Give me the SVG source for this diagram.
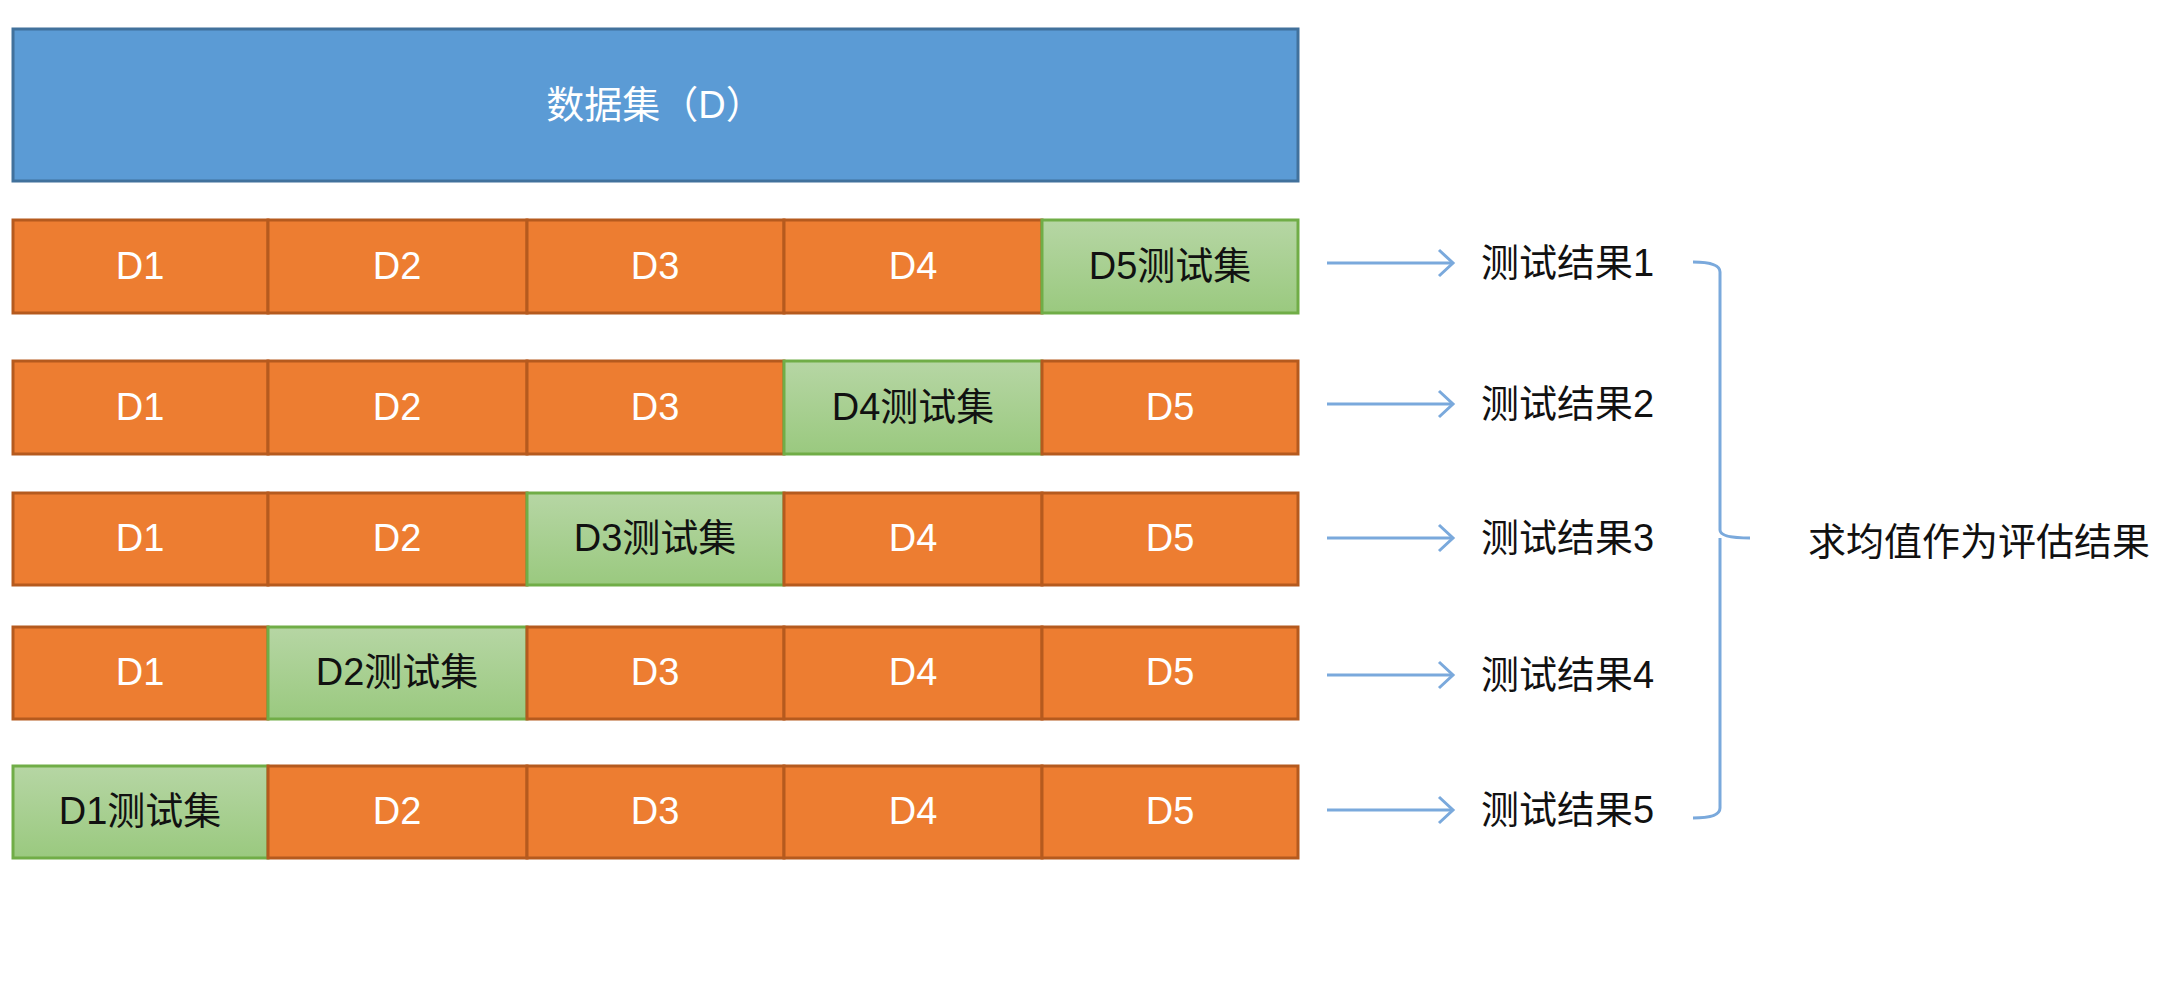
<svg xmlns="http://www.w3.org/2000/svg" width="2179" height="993" viewBox="0 0 2179 993">
<style>
.o{fill:#ed7d31;stroke:#b55a1e;stroke-width:3}
.g{fill:url(#gg);stroke:#70ad47;stroke-width:3}
.t{font-family:"Liberation Sans","Noto Sans CJK SC",sans-serif;font-size:38px;text-anchor:middle;dominant-baseline:central}
.w{fill:#fff}.k{fill:#111}
.r{font-family:"Liberation Sans","Noto Sans CJK SC",sans-serif;font-size:38px;fill:#111;dominant-baseline:central}
.a{stroke:#7aa9dc;stroke-width:3;fill:none}
</style>
<defs>
<linearGradient id="gg" x1="0" y1="0" x2="0" y2="1"><stop offset="0" stop-color="#b6d6a4"/><stop offset="1" stop-color="#9ac97f"/></linearGradient>
<marker id="ar" markerWidth="30" markerHeight="30" refX="26" refY="15" markerUnits="userSpaceOnUse" orient="auto"><path d="M12 2 L26 15 L12 28" fill="none" stroke="#7aa9dc" stroke-width="3"/></marker>
</defs>
<g id="dataset"><rect x="13" y="29" width="1285" height="152" fill="#5b9bd5" stroke="#41719c" stroke-width="3"/><text class="t w" x="655" y="105" font-size="50">数据集（D）</text></g>
<g id="row1">
<rect class="o" x="13" y="220" width="255" height="93"/><text class="t w" x="140" y="266">D1</text>
<rect class="o" x="268" y="220" width="259" height="93"/><text class="t w" x="397" y="266">D2</text>
<rect class="o" x="527" y="220" width="257" height="93"/><text class="t w" x="655" y="266">D3</text>
<rect class="o" x="784" y="220" width="258" height="93"/><text class="t w" x="913" y="266">D4</text>
<rect class="g" x="1042" y="220" width="256" height="93"/><text class="t k" x="1170" y="266">D5测试集</text>
</g>
<g id="row2">
<rect class="o" x="13" y="361" width="255" height="93"/><text class="t w" x="140" y="407">D1</text>
<rect class="o" x="268" y="361" width="259" height="93"/><text class="t w" x="397" y="407">D2</text>
<rect class="o" x="527" y="361" width="257" height="93"/><text class="t w" x="655" y="407">D3</text>
<rect class="g" x="784" y="361" width="258" height="93"/><text class="t k" x="913" y="407">D4测试集</text>
<rect class="o" x="1042" y="361" width="256" height="93"/><text class="t w" x="1170" y="407">D5</text>
</g>
<g id="row3">
<rect class="o" x="13" y="493" width="255" height="92"/><text class="t w" x="140" y="538">D1</text>
<rect class="o" x="268" y="493" width="259" height="92"/><text class="t w" x="397" y="538">D2</text>
<rect class="g" x="527" y="493" width="257" height="92"/><text class="t k" x="655" y="538">D3测试集</text>
<rect class="o" x="784" y="493" width="258" height="92"/><text class="t w" x="913" y="538">D4</text>
<rect class="o" x="1042" y="493" width="256" height="92"/><text class="t w" x="1170" y="538">D5</text>
</g>
<g id="row4">
<rect class="o" x="13" y="627" width="255" height="92"/><text class="t w" x="140" y="672">D1</text>
<rect class="g" x="268" y="627" width="259" height="92"/><text class="t k" x="397" y="672">D2测试集</text>
<rect class="o" x="527" y="627" width="257" height="92"/><text class="t w" x="655" y="672">D3</text>
<rect class="o" x="784" y="627" width="258" height="92"/><text class="t w" x="913" y="672">D4</text>
<rect class="o" x="1042" y="627" width="256" height="92"/><text class="t w" x="1170" y="672">D5</text>
</g>
<g id="row5">
<rect class="g" x="13" y="766" width="255" height="92"/><text class="t k" x="140" y="811">D1测试集</text>
<rect class="o" x="268" y="766" width="259" height="92"/><text class="t w" x="397" y="811">D2</text>
<rect class="o" x="527" y="766" width="257" height="92"/><text class="t w" x="655" y="811">D3</text>
<rect class="o" x="784" y="766" width="258" height="92"/><text class="t w" x="913" y="811">D4</text>
<rect class="o" x="1042" y="766" width="256" height="92"/><text class="t w" x="1170" y="811">D5</text>
</g>
<g id="connectors">
<line class="a" x1="1327" y1="263" x2="1453" y2="263" marker-end="url(#ar)"/>
<line class="a" x1="1327" y1="404" x2="1453" y2="404" marker-end="url(#ar)"/>
<line class="a" x1="1327" y1="538" x2="1453" y2="538" marker-end="url(#ar)"/>
<line class="a" x1="1327" y1="675" x2="1453" y2="675" marker-end="url(#ar)"/>
<line class="a" x1="1327" y1="810" x2="1453" y2="810" marker-end="url(#ar)"/>
<path class="a" d="M1693 262 Q1720 262 1720 272 L1720 530 Q1720 538 1750 538 M1720 538 Q1720 546 1720 550 L1720 808 Q1720 818 1693 818"/>
</g>
<g id="results">
<text class="r" x="1481" y="263">测试结果1</text>
<text class="r" x="1481" y="404">测试结果2</text>
<text class="r" x="1481" y="538">测试结果3</text>
<text class="r" x="1481" y="675">测试结果4</text>
<text class="r" x="1481" y="810">测试结果5</text>
</g>
<g id="summary"><text class="r" x="1808" y="542" font-size="46">求均值作为评估结果</text></g>
</svg>
